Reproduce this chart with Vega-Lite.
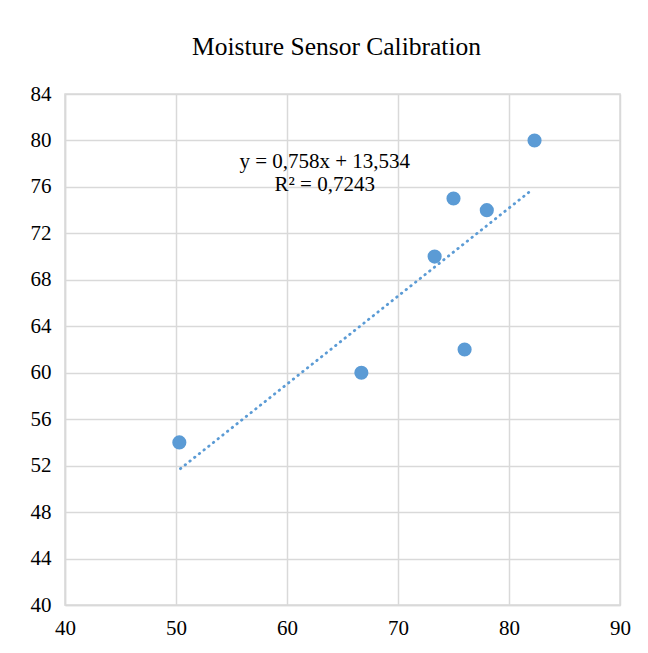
{
  "$schema": "https://vega.github.io/schema/vega-lite/v6.json",
  "width": 555,
  "height": 511,
  "autosize": {"type": "none"},
  "padding": {"left": 65, "top": 94, "right": 28, "bottom": 48},
  "background": "white",
  "config": {
    "view": {"stroke": "#D9D9D9", "strokeWidth": 1.5},
    "font": "Liberation Serif"
  },
  "title": {
    "text": "Moisture Sensor Calibration",
    "font": "Liberation Serif",
    "fontSize": 25.5,
    "fontWeight": "normal",
    "color": "#000000",
    "anchor": "middle",
    "offset": 23,
    "dx": -6
  },
  "datasets": {
    "points": [
      {"reading": 50.3, "moisture": 54},
      {"reading": 66.7, "moisture": 60},
      {"reading": 73.3, "moisture": 70},
      {"reading": 75.0, "moisture": 75},
      {"reading": 76.0, "moisture": 62},
      {"reading": 78.0, "moisture": 74},
      {"reading": 82.3, "moisture": 80}
    ],
    "trend": [
      {"reading": 50.4, "moisture": 51.74},
      {"reading": 82.1, "moisture": 75.77}
    ],
    "labels": [
      {"reading": 63.4, "moisture": 78.15, "text": "y = 0,758x + 13,534"},
      {"reading": 63.4, "moisture": 76.15, "text": "R² = 0,7243"}
    ]
  },
  "layer": [
    {
      "data": {"name": "trend"},
      "mark": {"type": "line", "color": "#5B9BD5", "strokeWidth": 2.8, "strokeDash": [0.5, 5.5], "strokeCap": "round"},
      "encoding": {
        "x": {"field": "reading", "type": "quantitative", "scale": {"domain": [40, 90], "nice": false, "zero": false},
          "axis": {"values": [40, 50, 60, 70, 80, 90], "title": null, "ticks": false, "domainColor": "#D9D9D9", "domainWidth": 1.5, "gridColor": "#D9D9D9", "gridWidth": 1.5, "labelFont": "Liberation Serif", "labelFontSize": 21, "labelColor": "#000000", "labelPadding": 12, "labelFlush": false}},
        "y": {"field": "moisture", "type": "quantitative", "scale": {"domain": [40, 84], "nice": false, "zero": false},
          "axis": {"values": [40, 44, 48, 52, 56, 60, 64, 68, 72, 76, 80, 84], "title": null, "ticks": false, "domainColor": "#D9D9D9", "domainWidth": 1.5, "gridColor": "#D9D9D9", "gridWidth": 1.5, "labelFont": "Liberation Serif", "labelFontSize": 21, "labelColor": "#000000", "labelPadding": 14, "labelFlush": false}}
      }
    },
    {
      "data": {"name": "points"},
      "mark": {"type": "circle", "color": "#5B9BD5", "opacity": 1, "size": 200},
      "encoding": {
        "x": {"field": "reading", "type": "quantitative"},
        "y": {"field": "moisture", "type": "quantitative"}
      }
    },
    {
      "data": {"name": "labels"},
      "mark": {"type": "text", "font": "Liberation Serif", "fontSize": 21, "color": "#000000", "align": "center", "baseline": "middle"},
      "encoding": {
        "x": {"field": "reading", "type": "quantitative"},
        "y": {"field": "moisture", "type": "quantitative"},
        "text": {"field": "text"}
      }
    }
  ]
}
